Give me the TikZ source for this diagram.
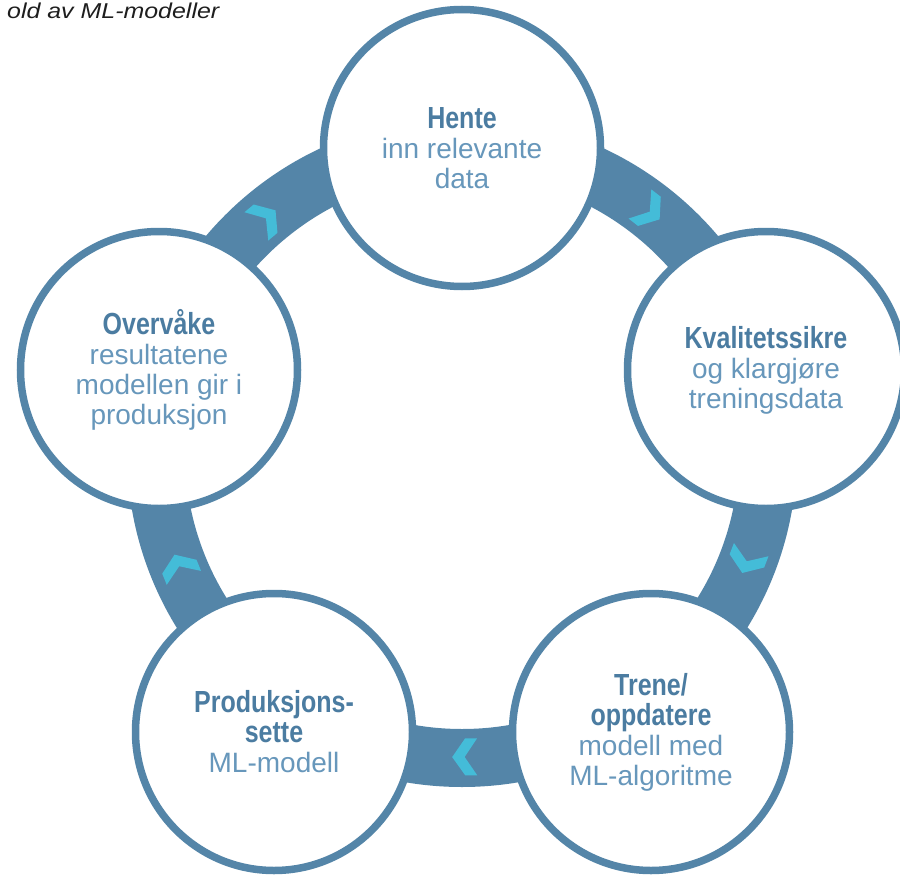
\documentclass[tikz,border=0pt]{standalone}
\usepackage{fontspec}
\setmainfont{Liberation Sans}
\newfontfamily\headfont{Liberation Sans}[FakeStretch=0.82]
\definecolor{ringblue}{HTML}{5485A8}
\definecolor{chevcyan}{HTML}{44BCD8}
\definecolor{headtext}{HTML}{4B7CA1}
\definecolor{bodytext}{HTML}{6797BB}
\definecolor{titletext}{HTML}{1E1E1E}
\newcommand\stagehead[1]{{\headfont\bfseries\fontsize{30.5}{30}\selectfont\color{headtext}#1}}
\begin{document}
\begin{tikzpicture}[x=1pt,y=1pt,
  stage/.style={circle, draw=ringblue, line width=7.5pt, fill=white,
    minimum size=277pt, inner sep=0pt, align=center, text=bodytext,
    font=\fontsize{28}{30}\selectfont},
  chev/.pic={\fill[chevcyan] (12.5,0) -- (-0.5,18.5) -- (-12.5,18.5) -- (0,0)
    -- (-12.5,-18.5) -- (-0.5,-18.5) -- cycle;}
]
\useasboundingbox (0,0) rectangle (900,-875);

% title line
\node[anchor=base west, inner sep=0pt, text=titletext,
  font=\itshape\fontsize{21.5}{21.5}\selectfont] (title) at (7,-19)
  {\scalebox{1.16}[1]{old av ML-modeller}};

% the cycle ring with clockwise chevrons
\coordinate (hub) at (462,-452);
\draw[ringblue, line width=58pt] (hub) circle[radius=306pt];
\foreach \a in {130,52,-21,-89.5,202}
  \path (hub) ++(\a:305) pic[rotate=\a-90] {chev};

% the five stages
\node[stage] (hente) at (462,-148) {\stagehead{Hente}\\inn relevante\\data};
\node[stage] (kval) at (766,-370) {\stagehead{Kvalitetssikre}\\og klargjøre\\treningsdata};
\node[stage] (trene) at (651,-732) {\stagehead{Trene/}\\\stagehead{oppdatere}\\modell med\\ML-algoritme};
\node[stage] (prod) at (274,-732) {\stagehead{Produksjons-}\\\stagehead{sette}\\ML-modell};
\node[stage] (overv) at (159,-370) {\stagehead{Overvåke}\\resultatene\\modellen gir i\\produksjon};
\end{tikzpicture}
\end{document}
